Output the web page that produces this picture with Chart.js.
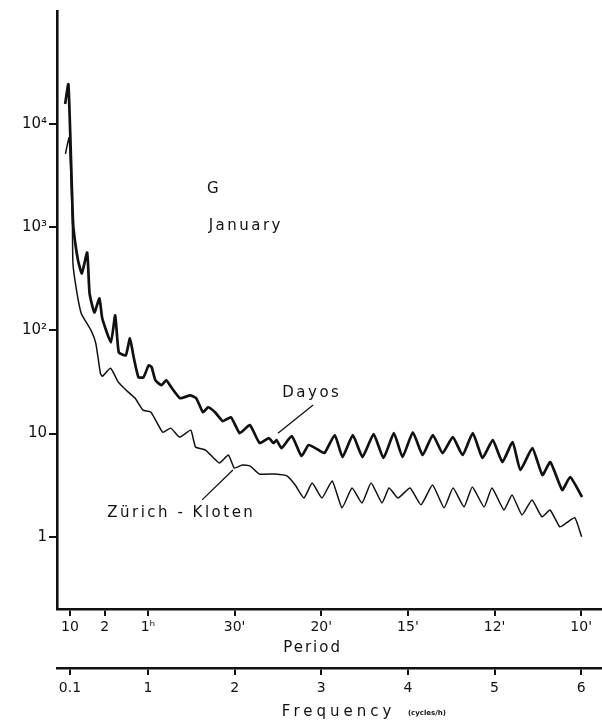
<!DOCTYPE html>
<html>
<head>
<meta charset="utf-8">
<script src="https://cdn.jsdelivr.net/npm/chart.js@4.4.1/dist/chart.umd.min.js"></script>
<style>
body { margin: 0; background: #fff; }
</style>
</head>
<body>
<canvas id="myChart" width="602" height="722"></canvas>
<script>
// spectra, frequency in cycles/h, power
var davosFreq = [0.044, 0.081, 0.098, 0.114, 0.130, 0.140, 0.193, 0.237, 0.298, 0.326, 0.381, 0.44, 0.472, 0.572, 0.622, 0.663, 0.744, 0.792, 0.835, 0.890,
    0.948, 1.008, 1.042, 1.085, 1.155, 1.212, 1.269, 1.372, 1.487, 1.557, 1.635, 1.693, 1.774, 1.865, 1.958, 2.059, 2.175, 2.289, 2.394, 2.449,
    2.484, 2.542, 2.659, 2.771, 2.854, 2.969, 3.038, 3.156, 3.245, 3.364, 3.476, 3.604, 3.718, 3.838, 3.938, 4.057, 4.169, 4.288, 4.400, 4.518,
    4.631, 4.749, 4.861, 4.979, 5.091, 5.208, 5.298, 5.436, 5.552, 5.644, 5.781, 5.873, 6.010];
var davosPower = [15600, 24300, 10700, 3930, 1440, 970, 474, 356, 567, 228, 149, 204, 131, 76.6, 140, 61.3, 57.3, 83.7, 54.8, 35.1,
    35.1, 45.9, 44, 32.9, 29.4, 32.9, 28.1, 22, 23.5, 22, 16.1, 18, 16.1, 13.2, 14.4, 10.1, 12.1, 8.1, 9.05, 8.1,
    8.65, 7.24, 9.46, 6.06, 7.74, 6.93, 6.48, 9.68, 5.93, 9.68, 5.93, 9.89, 5.8, 10.1, 5.93, 10.3, 6.2, 9.68, 6.48, 9.25,
    6.2, 10.1, 5.8, 8.65, 5.3, 8.28, 4.44, 7.24, 3.97, 5.3, 2.85, 3.8, 2.43];

var zurichFreq = [0.047, 0.09, 0.112, 0.128, 0.134, 0.176, 0.230, 0.343, 0.398, 0.451, 0.474, 0.568, 0.658, 0.749, 0.852, 0.942, 1.035, 1.170, 1.263, 1.366,
    1.494, 1.549, 1.664, 1.823, 1.928, 1.996, 2.088, 2.180, 2.284, 2.469, 2.607, 2.699, 2.800, 2.895, 3.008, 3.126, 3.239, 3.355, 3.470, 3.575,
    3.701, 3.782, 3.886, 4.025, 4.151, 4.284, 4.417, 4.521, 4.648, 4.743, 4.879, 4.970, 5.109, 5.201, 5.317, 5.432, 5.547, 5.640, 5.753, 5.834,
    5.927, 6.005];
var zurichPower = [5130, 7330, 2810, 1030, 444, 243, 146, 100, 74.8, 38.4, 35.9, 42.9, 31.5, 26.3, 22, 16.9, 16.1, 10.3, 11.3, 9.25,
    10.8, 7.41, 6.93, 5.19, 6.2, 4.64, 4.96, 4.85, 4.06, 4.06, 3.88, 3.18, 2.38, 3.32, 2.38, 3.48, 1.91, 2.97, 2.13, 3.32,
    2.13, 2.97, 2.38, 2.97, 2.04, 3.18, 1.91, 2.97, 1.95, 3.04, 1.95, 2.97, 1.82, 2.55, 1.63, 2.28, 1.56, 1.82, 1.25, 1.37,
    1.53, 1.0];

var powerTicks = [1, 10, 100, 1000, 10000];
var powerLabels = ["1", "10", "10²", "10³", "10⁴"];
var periodTicks = [0.1, 0.5, 1, 2, 3, 4, 5, 6];
var periodLabels = ["10", "2", "1ʰ", "30'", "20'", "15'", "12'", "10'"];
var freqTicks = [0.1, 1, 2, 3, 4, 5, 6];
var freqLabels = ["0.1", "1", "2", "3", "4", "5", "6"];

// text placed in data units
var notes = [
    {text: "G", f: 1.68, v: 2355},
    {text: "January", f: 1.70, v: 1030},
    {text: "Dayos", f: 2.55, v: 24.6},
    {text: "Zürich - Kloten", f: 0.53, v: 1.71}
];
var leaders = [
    {f1: 2.906, v1: 18.9, f2: 2.50, v2: 10.1},
    {f1: 1.98, v1: 4.44, f2: 1.625, v2: 2.28}
];

function pts(xs, ys) {
    return xs.map(function (x, i) { return {x: x, y: ys[i]}; });
}

var FONT = "'DejaVu Sans', sans-serif";

var paperText = {
    id: "paperText",
    afterDraw: function (chart) {
        var ctx = chart.ctx, xs = chart.scales.x, x2 = chart.scales.x2, ys = chart.scales.y;
        ctx.save();
        ctx.fillStyle = "#111";
        ctx.strokeStyle = "#111";
        ctx.textBaseline = "middle";
        ctx.textAlign = "left";
        ctx.font = "15px " + FONT;
        ctx.letterSpacing = "2.5px";
        notes.forEach(function (n) {
            ctx.fillText(n.text, xs.getPixelForValue(n.f), ys.getPixelForValue(n.v));
        });
        ctx.lineWidth = 1.3;
        leaders.forEach(function (l) {
            ctx.beginPath();
            ctx.moveTo(xs.getPixelForValue(l.f1), ys.getPixelForValue(l.v1));
            ctx.lineTo(xs.getPixelForValue(l.f2), ys.getPixelForValue(l.v2));
            ctx.stroke();
        });
        // axis titles
        ctx.textAlign = "center";
        ctx.letterSpacing = "2px";
        ctx.fillText("Period", xs.getPixelForValue(2.9), xs.top + 39);
        ctx.letterSpacing = "4px";
        ctx.fillText("Frequency", x2.getPixelForValue(3.2), x2.top + 44);
        ctx.letterSpacing = "0px";
        ctx.textAlign = "left";
        ctx.font = "bold 7px " + FONT;
        ctx.fillText("(cycles/h)", x2.getPixelForValue(4.0), x2.top + 45);
        ctx.restore();
    }
};

new Chart("myChart", {
    type: "line",
    data: {
        datasets: [{
            label: "Davos",
            data: pts(davosFreq, davosPower),
            borderColor: "#111",
            borderWidth: 2.7,
            pointRadius: 0,
            tension: 0.15,
            xAxisID: "x",
            yAxisID: "y"
        }, {
            label: "Zürich - Kloten",
            data: pts(zurichFreq, zurichPower),
            borderColor: "#111",
            borderWidth: 1.5,
            pointRadius: 0,
            tension: 0.15,
            xAxisID: "x",
            yAxisID: "y"
        }]
    },
    options: {
        responsive: false,
        animation: false,
        devicePixelRatio: 1,
        layout: {padding: {top: 10, left: 0, right: 0, bottom: 0}},
        plugins: {legend: {display: false}, tooltip: {enabled: false}},
        scales: {
            x: {
                type: "linear",
                position: "bottom",
                weight: 0,
                min: -0.05,
                max: 6.24,
                afterBuildTicks: function (s) { s.ticks = periodTicks.map(function (v) { return {value: v}; }); },
                afterFit: function (s) { s.height = 59; },
                border: {display: true, color: "#111", width: 2.5},
                grid: {drawOnChartArea: false, drawTicks: true, tickLength: 7, color: "#111", lineWidth: 2},
                ticks: {
                    autoSkip: false, maxRotation: 0, padding: 3, color: "#111",
                    font: {family: FONT, size: 14},
                    callback: function (v) { return periodLabels[periodTicks.indexOf(v)]; }
                }
            },
            x2: {
                type: "linear",
                position: "bottom",
                weight: 1,
                min: -0.05,
                max: 6.24,
                afterBuildTicks: function (s) { s.ticks = freqTicks.map(function (v) { return {value: v}; }); },
                afterFit: function (s) { s.height = 54; },
                border: {display: true, color: "#111", width: 2.5},
                grid: {drawOnChartArea: false, drawTicks: true, tickLength: 7, color: "#111", lineWidth: 2},
                ticks: {
                    autoSkip: false, maxRotation: 0, padding: 5, color: "#111",
                    font: {family: FONT, size: 14},
                    callback: function (v) { return freqLabels[freqTicks.indexOf(v)]; }
                }
            },
            y: {
                type: "logarithmic",
                position: "left",
                min: 0.2,
                max: 124000,
                afterBuildTicks: function (s) { s.ticks = powerTicks.map(function (v) { return {value: v}; }); },
                afterFit: function (s) { s.width = 57; },
                border: {display: true, color: "#111", width: 2.6},
                grid: {drawOnChartArea: false, drawTicks: true, tickLength: 8, color: "#111", lineWidth: 2},
                ticks: {
                    padding: 2, color: "#111",
                    font: {family: FONT, size: 15},
                    callback: function (v) { return powerLabels[powerTicks.indexOf(v)]; }
                }
            }
        }
    },
    plugins: [paperText]
});
</script>
</body>
</html>
